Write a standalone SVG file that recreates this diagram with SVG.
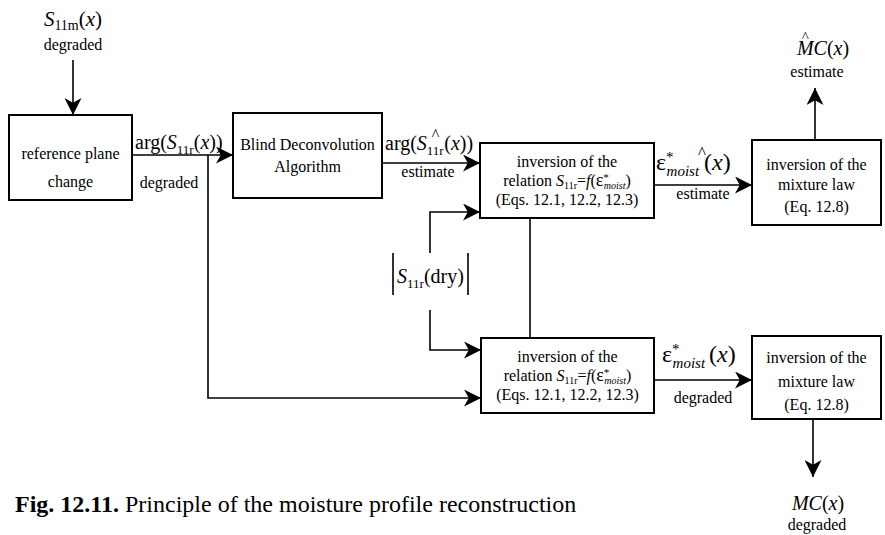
<svg xmlns="http://www.w3.org/2000/svg" width="885" height="535" viewBox="0 0 885 535" font-family="'Liberation Serif', 'Times New Roman', serif">
<defs>
<style>
text{font-family:"Liberation Serif","Times New Roman",serif;fill:#000}
.b{font-size:16px;text-anchor:middle}
.l{font-size:20px}
.it{font-style:italic}
.box{fill:#fff;stroke:#000;stroke-width:2}
.c{fill:none;stroke:#000;stroke-width:1.6}
</style>
<marker id="ah" markerUnits="userSpaceOnUse" markerWidth="17" markerHeight="17" viewBox="0 0 16 16" refX="16" refY="8" orient="auto"><path d="M0,0 L16,8 L0,16 L4.5,8 z" fill="#000"/></marker>
</defs>
<rect width="885" height="535" fill="#fff"/>

<g id="connectors">
<path class="c" d="M73,60 V115" marker-end="url(#ah)"/>
<path class="c" d="M132,155 H233" marker-end="url(#ah)"/>
<path class="c" d="M382,163 H480" marker-end="url(#ah)"/>
<path class="c" d="M208,155 V398 H481" marker-end="url(#ah)"/>
<path class="c" d="M430,253 V212 H480" marker-end="url(#ah)"/>
<path class="c" d="M430,310 V350 H481" marker-end="url(#ah)"/>
<path class="c" d="M530,218 V338"/>
<path class="c" d="M654,185 H752" marker-end="url(#ah)"/>
<path class="c" d="M654,380 H752" marker-end="url(#ah)"/>
<path class="c" d="M815,140 V88" marker-end="url(#ah)"/>
<path class="c" d="M813,419 V477" marker-end="url(#ah)"/>
</g>

<g id="input-S11m">
<text x="73" y="26" text-anchor="middle" font-size="21"><tspan class="it">S</tspan><tspan font-size="14" dy="4">11m</tspan><tspan dy="-4">(</tspan><tspan class="it">x</tspan>)</text>
<text class="b" x="73" y="50">degraded</text>
</g>

<g id="reference-plane">
<rect class="box" x="9" y="115" width="123" height="85"/>
<text class="b" x="70.5" y="159">reference plane</text>
<text class="b" x="70.5" y="187">change</text>
</g>

<g id="label-arg-degraded">
<text class="l" x="135" y="149"><tspan>arg(</tspan><tspan class="it">S</tspan><tspan font-size="13" dy="5">11r</tspan><tspan dy="-5">(</tspan><tspan class="it">x</tspan>))</text>
<text class="b" x="169" y="188">degraded</text>
</g>

<g id="blind-deconvolution">
<rect class="box" x="233" y="113" width="149" height="85"/>
<text class="b" x="307.5" y="150">Blind Deconvolution</text>
<text class="b" x="307.5" y="172">Algorithm</text>
</g>

<g id="label-arg-estimate">
<text class="l" x="385" y="150"><tspan>arg(</tspan><tspan class="it">S</tspan><tspan font-size="13" dy="5">11r</tspan><tspan font-size="16" dx="-12" dy="-15">^</tspan><tspan dx="5" dy="10">(</tspan><tspan class="it">x</tspan>))</text>
<text class="b" x="428" y="177">estimate</text>
</g>

<g id="inversion-relation-estimate">
<rect class="box" x="480" y="143" width="174" height="75"/>
<text class="b" x="567" y="167">inversion of the</text>
<text class="b" x="567" y="186">relation <tspan class="it">S</tspan><tspan font-size="10" dy="3">11r</tspan><tspan dy="-3">=</tspan><tspan class="it">f</tspan>(<tspan font-size="18">ε</tspan><tspan font-size="11" dy="-5">*</tspan><tspan font-size="10" class="it" dx="-5" dy="8">moist</tspan><tspan dy="-3">)</tspan></text>
<text class="b" x="567" y="205">(Eqs. 12.1, 12.2, 12.3)</text>
</g>

<g id="label-S11r-dry">
<path class="c" d="M393,253 V295 M468,253 V295"/>
<text class="l" x="430.5" y="283" text-anchor="middle"><tspan class="it">S</tspan><tspan font-size="13" dy="5">11r</tspan><tspan dy="-5">(dry)</tspan></text>
</g>

<g id="inversion-relation-degraded">
<rect class="box" x="481" y="338" width="173" height="75"/>
<text class="b" x="567.5" y="362">inversion of the</text>
<text class="b" x="567.5" y="381">relation <tspan class="it">S</tspan><tspan font-size="10" dy="3">11r</tspan><tspan dy="-3">=</tspan><tspan class="it">f</tspan>(<tspan font-size="18">ε</tspan><tspan font-size="11" dy="-5">*</tspan><tspan font-size="10" class="it" dx="-5" dy="8">moist</tspan><tspan dy="-3">)</tspan></text>
<text class="b" x="567.5" y="400">(Eqs. 12.1, 12.2, 12.3)</text>
</g>

<g id="label-eps-estimate">
<text x="656" y="170" font-size="24">ε<tspan font-size="15" dy="-8">*</tspan><tspan font-size="15" class="it" dx="-7" dy="14">moist</tspan><tspan font-size="17" dx="-1" dy="-18">^</tspan><tspan dx="-2" dy="12">(</tspan><tspan class="it">x</tspan>)</text>
<text class="b" x="703" y="199">estimate</text>
</g>

<g id="label-eps-degraded">
<text x="662" y="362" font-size="24">ε<tspan font-size="15" dy="-8">*</tspan><tspan font-size="15" class="it" dx="-7" dy="14">moist</tspan><tspan dy="-6" dx="4">(</tspan><tspan class="it">x</tspan>)</text>
<text class="b" x="703" y="403">degraded</text>
</g>

<g id="mixture-law-estimate">
<rect class="box" x="752" y="140" width="129" height="85"/>
<text class="b" x="816.5" y="170">inversion of the</text>
<text class="b" x="816.5" y="190">mixture law</text>
<text class="b" x="816.5" y="212">(Eq. 12.8)</text>
</g>

<g id="output-MC-estimate">
<text x="818" y="55" font-size="20" text-anchor="middle"><tspan font-size="15" dx="5" dy="-13">^</tspan><tspan class="it" dx="-12" dy="13">MC</tspan>(<tspan class="it">x</tspan>)</text>
<text class="b" x="817" y="77">estimate</text>
</g>

<g id="mixture-law-degraded">
<rect class="box" x="752" y="336" width="129" height="83"/>
<text class="b" x="816.5" y="363">inversion of the</text>
<text class="b" x="816.5" y="387">mixture law</text>
<text class="b" x="816.5" y="410">(Eq. 12.8)</text>
</g>

<g id="output-MC-degraded">
<text x="818" y="510" font-size="20" text-anchor="middle"><tspan class="it">MC</tspan>(<tspan class="it">x</tspan>)</text>
<text class="b" x="817" y="530">degraded</text>
</g>

<g id="caption">
<text x="15" y="512" font-size="24"><tspan font-weight="bold">Fig. 12.11.</tspan> Principle of the moisture profile reconstruction</text>
</g>
</svg>
